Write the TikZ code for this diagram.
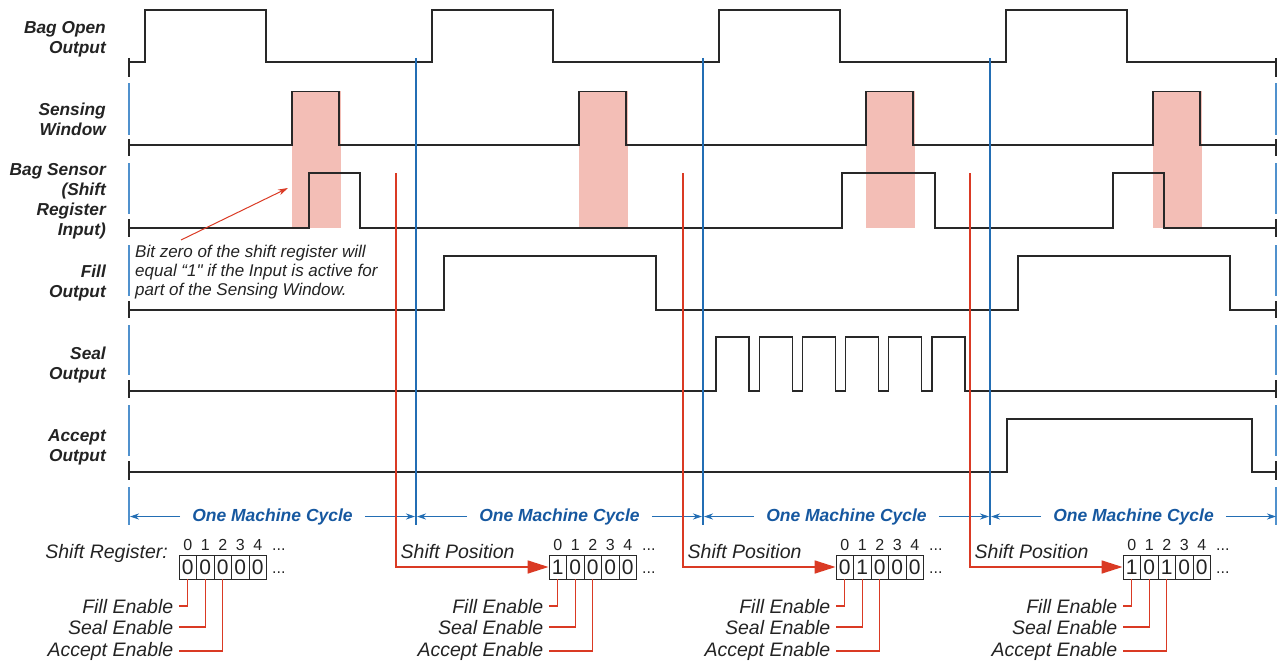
\documentclass[tikz,border=0pt]{standalone}
\usepackage{fontspec}
\setmainfont{Liberation Sans}[Ligatures=TeXOff]
\usetikzlibrary{arrows.meta,calc}
\definecolor{sig}{RGB}{40,40,40}
\definecolor{redl}{RGB}{218,58,36}
\definecolor{bluel}{RGB}{35,110,180}
\definecolor{bluet}{RGB}{22,88,160}
\definecolor{lightb}{RGB}{80,145,205}
\definecolor{pinkf}{RGB}{243,190,182}
\definecolor{txt}{RGB}{35,35,35}
\begin{document}
\begin{tikzpicture}[x=1pt,y=-1pt,
  signal/.style={draw=sig,line width=1.1pt,line join=miter},
  lbl/.style={font=\fontsize{17.3}{20}\selectfont\bfseries\itshape,align=right,inner sep=0pt,text=txt},
  enl/.style={font=\fontsize{19.5}{22}\selectfont\itshape,inner sep=0pt,text=txt},
  note/.style={font=\fontsize{17}{19}\selectfont\itshape,align=left,inner sep=0pt,text=txt},
  cyctxt/.style={font=\fontsize{17.5}{20}\selectfont\bfseries\itshape,text=bluet,inner xsep=12pt,inner ysep=0pt},
  cycarrow/.style={draw=bluel,line width=1pt,-{Stealth[length=9pt,width=6pt]}},
  cell/.style={draw=sig,line width=0.9pt,minimum width=17.5pt,minimum height=24pt,inner sep=0pt,font=\fontsize{21}{21}\selectfont,text=txt},
  digtop/.style={font=\fontsize{16}{16}\selectfont,inner sep=0pt,text=txt},
  redthin/.style={draw=redl,line width=1.1pt},
  redthick/.style={draw=redl,line width=1.6pt},
  bline/.style={draw=bluel,line width=1.1pt},
  edge/.style={draw=lightb,line width=1.1pt},
  etick/.style={draw=sig,line width=1.1pt}]
\useasboundingbox (0,0) rectangle (1285,661);

% shading of sensing windows
\foreach \k in {0,...,3}
  \fill[pinkf] ({292+287*\k},91) rectangle ({341+287*\k},228);

% signal labels (base anchor = baseline of last line)
\node[lbl,anchor=base east] (lbag) at (106,53.3) {Bag Open\\Output};
\node[lbl,anchor=base east] (lsens) at (106,135) {Sensing\\Window};
\node[lbl,anchor=base east] (lbs) at (106,235) {Bag Sensor\\(Shift\\Register\\Input)};
\node[lbl,anchor=base east] (lfill) at (106,297) {Fill\\Output};
\node[lbl,anchor=base east] (lseal) at (106,379) {Seal\\Output};
\node[lbl,anchor=base east] (lacc) at (106,461) {Accept\\Output};

% signals
\draw[signal] (129,62) foreach \k in {0,...,3} { -- ({145+287*\k},62) -- ({145+287*\k},10) -- ({266+287*\k},10) -- ({266+287*\k},62) } -- (1276,62);
\draw[signal] (129,145) foreach \k in {0,...,3} { -- ({292+287*\k},145) -- ({292+287*\k},91.5) -- ({339+287*\k},91.5) -- ({339+287*\k},145) } -- (1276,145);
\draw[signal] (129,228) -- (309,228) -- (309,173) -- (360,173) -- (360,228) -- (842,228) -- (842,173) -- (935,173) -- (935,228) -- (1113,228) -- (1113,173) -- (1164,173) -- (1164,228) -- (1276,228);
\draw[signal] (129,310) -- (444,310) -- (444,256) -- (656,256) -- (656,310) -- (1018,310) -- (1018,256) -- (1230,256) -- (1230,310) -- (1276,310);
\draw[signal] (129,391) foreach \i in {0,...,5} { -- ({716+43.2*\i},391) -- ({716+43.2*\i},337) -- ({749+43.2*\i},337) -- ({749+43.2*\i},391) } -- (1276,391);
\draw[signal] (129,472) -- (1007,472) -- (1007,419) -- (1252,419) -- (1252,472) -- (1276,472);

% outer edges: black ticks and blue dashes
\foreach \x in {129,1276} {
  \foreach \a/\b in {58/77,139/156,219/237,301/318,380/398,461/480}
    \draw[etick] (\x,\a) -- (\x,\b);
  \foreach \a/\b in {83/135,163/214,245/296,325/375,405/456,487/525}
    \draw[edge] (\x,\a) -- (\x,\b);
}
% inner cycle boundaries
\foreach \x in {416,703,990}
  \draw[bline] (\x,58) -- (\x,525);

% machine cycle arrows
\foreach \k in {0,...,3} {
  \pgfmathsetmacro\xl{129+287*\k}
  \pgfmathsetmacro\xr{\xl+287}
  \node[cyctxt] (cyc\k) at ({(\xl+\xr)/2},516.5) {One Machine Cycle};
  \draw[cycarrow] (cyc\k.west) -- ({\xl+1},516.5);
  \draw[cycarrow] (cyc\k.east) -- ({\xr-1},516.5);
}

% annotation
\node[note,anchor=base west] (note) at (135,295) {Bit zero of the shift register will\\equal “1" if the Input is active for\\part of the Sensing Window.};
\coordinate (ptr) at (181,240);
\coordinate (ptrtip) at (288,188);
\draw[redthin,line width=1pt,-{Stealth[length=10pt,width=6pt]}] (ptr) -- (ptrtip);

% shift registers
\node[enl,anchor=base east] (srl) at (168,558) {Shift Register:};
\foreach \k/\xb/\va/\vb/\vc in {1/179/0/0/0,2/549/1/0/0,3/836/0/1/0,4/1123/1/0/1} {
  \foreach \i/\v in {0/\va,1/\vb,2/\vc,3/0,4/0} {
    \node[cell] (r\k-\i) at ({\xb+8.75+17.5*\i},567) {\v};
    \node[digtop,anchor=base] (d\k-\i) at ({\xb+8.75+17.5*\i},550) {\i};
  }
  \node[digtop,anchor=base west] (dt\k) at ({\xb+93},550) {...};
  \node[digtop,anchor=base west] (db\k) at ({\xb+93},573) {...};
  \node[enl,anchor=base east] (fe\k) at ({\xb-5.5},613) {Fill Enable};
  \node[enl,anchor=base east] (se\k) at ({\xb-5.5},634) {Seal Enable};
  \node[enl,anchor=base east] (ae\k) at ({\xb-5.5},656) {Accept Enable};
  \draw[redthin] (r\k-0.south) |- ([xshift=5.5pt]fe\k.east);
  \draw[redthin] (r\k-1.south) |- ([xshift=5.5pt]se\k.east);
  \draw[redthin] (r\k-2.south) |- ([xshift=5.5pt]ae\k.east);
}

% shift position arrows
\foreach \k/\rx in {2/396,3/683,4/970} {
  \coordinate (sh\k) at (\rx,173);
  \node[enl,anchor=base west] (sp\k) at ({\rx+4.5},558) {Shift Position};
  \draw[redthick,-{Triangle[length=21pt,width=13pt]}] (sh\k) |- (r\k-0.west);
}
\end{tikzpicture}
\end{document}
